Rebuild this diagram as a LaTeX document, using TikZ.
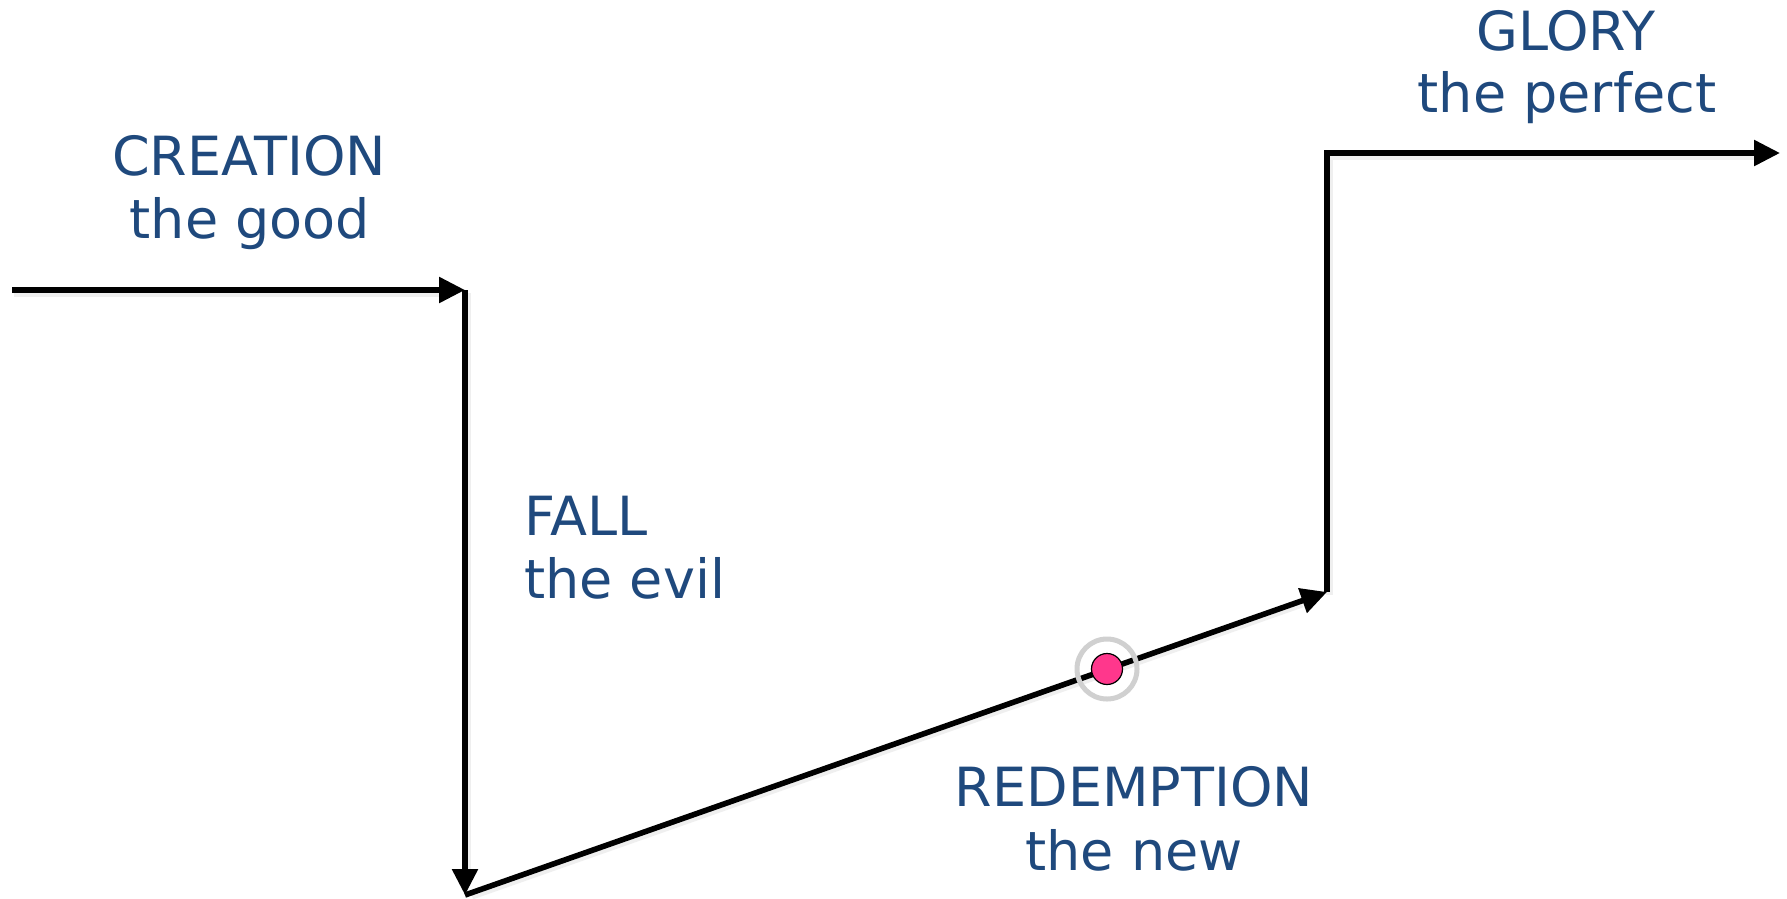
\documentclass[tikz,border=0pt]{standalone}
\usepackage{fontspec}
\setmainfont{DejaVu Sans}
\usetikzlibrary{arrows.meta}
\definecolor{txtblue}{RGB}{31,73,125}
\definecolor{dotpink}{RGB}{255,55,140}
\definecolor{ringgray}{RGB}{208,208,208}
\tikzset{
  lbl/.style={text=txtblue, font=\fontsize{54}{63}\selectfont, inner sep=0pt},
  flow/.style={line width=5.6pt, black},
  tipped/.style={flow, -{Triangle[length=26pt,width=25pt]}},
  shadowline/.style={line width=7pt, black!12, opacity=0.5},
}
\begin{document}
\begin{tikzpicture}[x=1pt,y=-1pt]
\useasboundingbox[fill=white] (0,0) rectangle (1787,898);
\coordinate (start) at (12,290);
\coordinate (c1) at (465,290);
\coordinate (c2) at (465,895);
\coordinate (c3) at (1327,592);
\coordinate (c4) at (1327,153);
\coordinate (finish) at (1780,153);
% faint shadow
\begin{scope}[shift={(2,3)}]
\draw[shadowline] (12,290) -- (440,290);
\draw[shadowline] (465,290) -- (465,870);
\draw[shadowline] (470,893) -- (1300,601);
\draw[shadowline] (1327,592) -- (1327,153) -- (1755,153);
\end{scope}
\draw[tipped] (start) -- (c1);
\draw[tipped] (c1) -- (c2);
\draw[tipped] (c2) -- (c3);
\draw[tipped, line join=miter] (c3) -- (c4) -- (finish);
% point on the redemption line
\node[circle, draw=ringgray, line width=5pt, minimum size=60pt, inner sep=0pt] (ring) at (1107,669) {};
\node[circle, draw=black, line width=1.2pt, fill=dotpink, minimum size=31pt, inner sep=0pt] (dot) at (1107,669) {};
% labels
\node[lbl, anchor=base] (creation) at (249,175) {CREATION};
\node[lbl, anchor=base] (creationsub) at (250,238) {the good};
\node[lbl, anchor=base west] (fall) at (524,535) {FALL};
\node[lbl, anchor=base west] (fallsub) at (524,598) {the evil};
\node[lbl, anchor=base] (redemption) at (1134,806) {REDEMPTION};
\node[lbl, anchor=base] (redemptionsub) at (1134,870) {the new};
\node[lbl, anchor=base] (glory) at (1566,50) {GLORY};
\node[lbl, anchor=base] (glorysub) at (1567,112) {the perfect};
\end{tikzpicture}
\end{document}
